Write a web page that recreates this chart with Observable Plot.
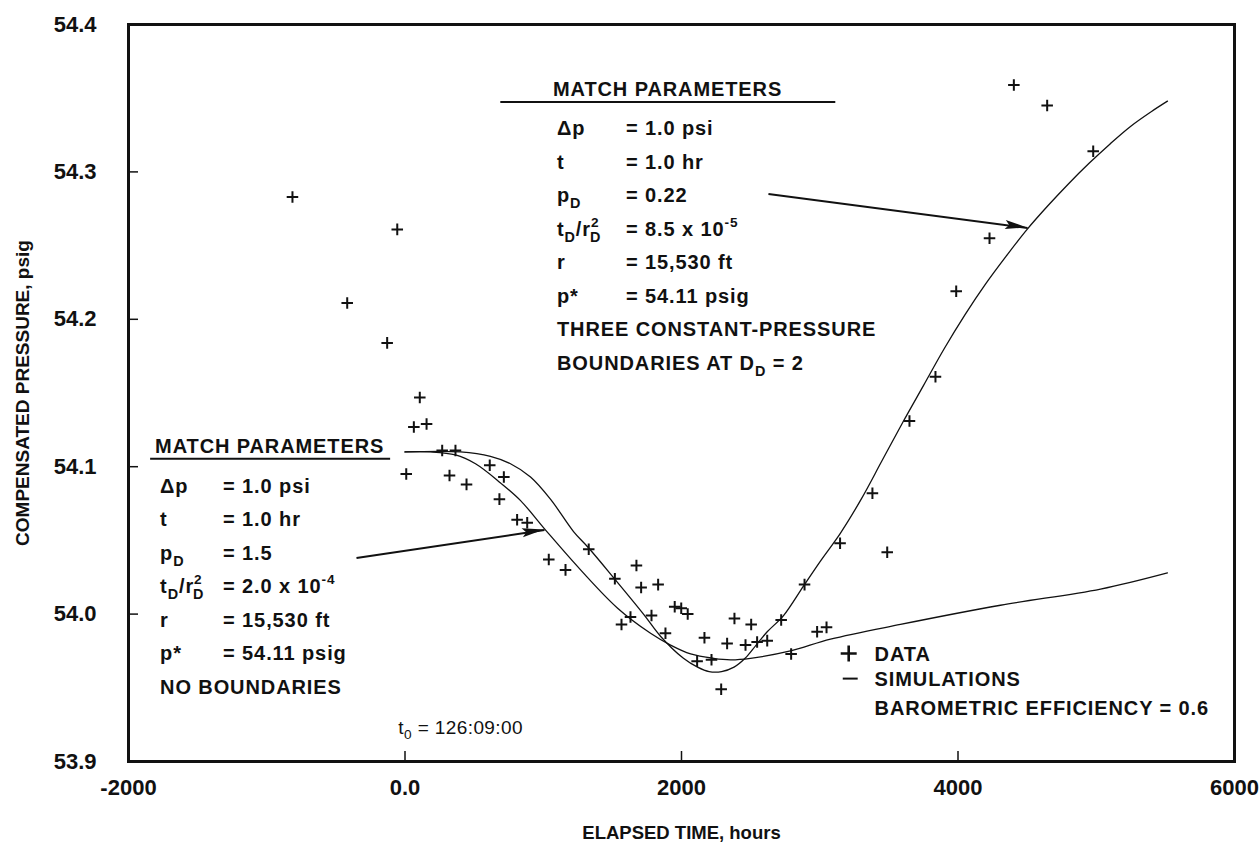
<!DOCTYPE html>
<html><head><meta charset="utf-8">
<script src="https://cdn.jsdelivr.net/npm/d3@7"></script>
<script src="https://cdn.jsdelivr.net/npm/@observablehq/plot@0.6"></script>
<style>
html,body{margin:0;padding:0;background:#fff;}
#chart{width:1260px;height:854px;}
</style></head><body><div id="chart"></div>
<script>
// ---------- DATA ----------
const dataTime = [-814,-418,-129,-56,9,64,107,156,269,322,365,445,613,683,715,811,884,1040,1161,1329,1518,1566,1631,1674,1708,1783,1831,1884,1951,1998,2045,2113,2166,2217,2287,2330,2383,2463,2504,2547,2620,2721,2793,2890,2981,3049,3147,3381,3488,3649,3837,3987,4228,4404,4645,4978];
const dataPressure = [54.283,54.211,54.184,54.261,54.095,54.127,54.147,54.129,54.111,54.094,54.111,54.088,54.101,54.078,54.093,54.064,54.062,54.037,54.030,54.044,54.024,53.993,53.998,54.033,54.018,53.999,54.020,53.987,54.005,54.004,54.000,53.968,53.984,53.969,53.949,53.980,53.997,53.979,53.993,53.981,53.982,53.996,53.973,54.020,53.988,53.991,54.048,54.082,54.042,54.131,54.161,54.219,54.255,54.359,54.345,54.314];

// simulation: no boundaries (pD = 1.5)
const simNoBoundTime = [0,184,365,510,691,836,1017,1270,1538,1776,1921,2066,2232,2355,2499,2788,3078,3584,4307,5031,5515];
const simNoBoundPressure = [54.110,54.110,54.108,54.102,54.089,54.077,54.057,54.030,54.004,53.987,53.979,53.973,53.970,53.969,53.970,53.975,53.983,53.993,54.006,54.017,54.028];

// simulation: three constant-pressure boundaries (pD = 0.22)
const simBoundTime = [0,401,618,763,908,1052,1219,1327,1515,1725,1848,2014,2116,2200,2290,2380,2460,2540,2620,2738,2882,3005,3150,3300,3450,3600,3750,3900,4050,4200,4350,4500,4650,4800,4950,5100,5250,5400,5515];
const simBoundPressure = [54.110,54.110,54.107,54.102,54.093,54.078,54.056,54.045,54.024,54.000,53.985,53.970,53.964,53.961,53.961,53.964,53.970,53.979,53.988,53.999,54.019,54.036,54.055,54.078,54.104,54.130,54.155,54.180,54.203,54.224,54.243,54.261,54.277,54.292,54.306,54.319,54.331,54.341,54.348];

const xTicks = [-2000, 0, 2000, 4000, 6000];
const xTickLabels = ["-2000", "0.0", "2000", "4000", "6000"];
const yTicks = [53.9, 54.0, 54.1, 54.2, 54.3, 54.4];
const yTickLabels = ["53.9", "54.0", "54.1", "54.2", "54.3", "54.4"];
const xTitle = "ELAPSED TIME, hours";
const yTitle = "COMPENSATED PRESSURE, psig";

const paramTitle = "MATCH PARAMETERS";
const paramLabels = ["Δp", "t", "p_{D}", "t_{D}/r^{2}_{D}", "r", "p*"];
const upperValues = ["= 1.0 psi", "= 1.0 hr", "= 0.22", "= 8.5 x 10^{-5}", "= 15,530 ft", "= 54.11 psig"];
const upperNotes = ["THREE CONSTANT-PRESSURE", "BOUNDARIES AT D_{D} = 2"];
const lowerValues = ["= 1.0 psi", "= 1.0 hr", "= 1.5", "= 2.0 x 10^{-4}", "= 15,530 ft", "= 54.11 psig"];
const lowerNotes = ["NO BOUNDARIES"];
const legendLabels = ["DATA", "SIMULATIONS", "BAROMETRIC EFFICIENCY = 0.6"];
const t0Label = "t_{0} = 126:09:00";

// arrows (from annotation to curve)
const arrowFromT = [2629, -351];
const arrowFromP = [54.285, 54.038];
const arrowToT = [4503, 1009];
const arrowToP = [54.262, 54.057];

// ---------- BUILD ----------
const FONT = "'Liberation Sans', Arial, Helvetica, sans-serif";
const W = 1260, H = 854, ML = 128, MR = 26, MT = 24, MB = 93;
const obs = dataTime.map((t, i) => ({t, p: dataPressure[i]}));
const simA = simNoBoundTime.map((t, i) => ({t, p: simNoBoundPressure[i]}));
const simB = simBoundTime.map((t, i) => ({t, p: simBoundPressure[i]}));
const arrows = arrowFromT.map((_, i) => ({x1: arrowFromT[i], y1: arrowFromP[i], x2: arrowToT[i], y2: arrowToP[i]}));
const innerX = xTicks.slice(1, -1);
const innerY = yTicks.slice(1, -1);

const plot = Plot.plot({
  width: W, height: H,
  marginLeft: ML, marginRight: MR, marginTop: MT, marginBottom: MB,
  style: {fontFamily: FONT, background: "#fff", color: "#111", overflow: "visible"},
  x: {domain: [xTicks[0], xTicks[xTicks.length - 1]]},
  y: {domain: [yTicks[0], yTicks[yTicks.length - 1]]},
  marks: [
    Plot.axisX(xTicks, {tickSize: 0, tickPadding: 18, tickFormat: d => xTickLabels[xTicks.indexOf(d)], fontSize: 22, fontWeight: "bold", label: null}),
    Plot.axisY(yTicks, {tickSize: 0, tickPadding: 32, tickFormat: d => yTickLabels[yTicks.indexOf(d)], fontSize: 22, fontWeight: "bold", label: null}),
    Plot.ruleX(innerX, {insetTop: (H - MT - MB) - 10, stroke: "#111", strokeWidth: 1.5}),
    Plot.ruleY(innerY, {insetRight: (W - ML - MR) - 10, stroke: "#111", strokeWidth: 1.5}),
    Plot.line(simA, {x: "t", y: "p", curve: "catmull-rom", stroke: "#111", strokeWidth: 1.3}),
    Plot.line(simB, {x: "t", y: "p", curve: "catmull-rom", stroke: "#111", strokeWidth: 1.3}),
    Plot.dot(obs, {x: "t", y: "p", symbol: "plus", r: 3.8, stroke: "#111", strokeWidth: 2}),
    Plot.link(arrows, {x1: "x1", y1: "y1", x2: "x2", y2: "y2", stroke: "#111", strokeWidth: 2}),
    Plot.text([yTitle], {frameAnchor: "left", textAnchor: "middle", dx: 22 - ML, rotate: -90, fontSize: 19, fontWeight: "bold", fill: "#111"}),
    Plot.text([xTitle], {frameAnchor: "bottom", textAnchor: "middle", dy: 77, fontSize: 18.5, fontWeight: "bold", fill: "#111"}),
    Plot.frame({stroke: "#111", strokeWidth: 3})
  ]
});
document.getElementById("chart").appendChild(plot);

// ---------- ANNOTATIONS ----------
const sx = plot.scale("x"), sy = plot.scale("y");
const X = v => sx.apply(v), Y = v => sy.apply(v);
const svg = d3.select(plot);
const g = svg.append("g").attr("class", "annotations").attr("text-anchor", "start");

function richText(x, yCenter, str, size, weight, spacing) {
  const t = g.append("text").attr("x", x).attr("y", yCenter + 0.36 * size)
    .attr("text-anchor", "start")
    .attr("font-size", size).attr("font-weight", weight || "bold")
    .attr("letter-spacing", spacing == null ? 0.9 : spacing)
    .attr("fill", "#111").style("font-family", FONT);
  const parts = str.split(/(_\{[^}]*\}|\^\{[^}]*\})/).filter(s => s !== "");
  let shift = 0, lastSup = null;
  parts.forEach(p => {
    if (p.startsWith("_{")) {
      const ts = t.append("tspan").attr("font-size", size * 0.72).text(p.slice(2, -1));
      const target = 0.3 * size;
      ts.attr("dy", target - shift);
      if (lastSup) ts.attr("dx", -lastSup.getComputedTextLength() - 1);
      shift = target; lastSup = null;
    } else if (p.startsWith("^{")) {
      const ts = t.append("tspan").attr("font-size", size * 0.68).text(p.slice(2, -1));
      const target = -0.45 * size;
      ts.attr("dy", target - shift);
      shift = target; lastSup = ts.node();
    } else {
      const ts = t.append("tspan").text(p);
      if (shift !== 0) ts.attr("dy", -shift);
      shift = 0; lastSup = null;
    }
  });
  return t;
}

function paramBlock(labelT, firstRowP, valueOffset, values, notes, titleT, titleP, ulT1, ulT2, ulP) {
  const lx = X(labelT), y0 = Y(firstRowP), lh = 33.5, fs = 20;
  richText(X(titleT), Y(titleP), paramTitle, fs);
  g.append("line").attr("x1", X(ulT1)).attr("x2", X(ulT2)).attr("y1", Y(ulP)).attr("y2", Y(ulP))
    .attr("stroke", "#111").attr("stroke-width", 2);
  paramLabels.forEach((s, i) => {
    richText(lx, y0 + i * lh, s, fs);
    richText(lx + valueOffset, y0 + i * lh, values[i], fs);
  });
  notes.forEach((s, i) => richText(lx, y0 + (paramLabels.length + i) * lh, s, fs));
}

// upper block (three constant-pressure boundaries)
paramBlock(1103, 54.3294, 69, upperValues, upperNotes, 1074, 54.3559, 693, 3116, 54.3471);
// lower block (no boundaries)
paramBlock(-1768, 54.0870, 63, lowerValues, lowerNotes, -1804, 54.1140, -1840, -104, 54.1050);

// arrow heads
arrows.forEach(a => {
  const x1 = X(a.x1), y1 = Y(a.y1), x2 = X(a.x2), y2 = Y(a.y2);
  const L = Math.hypot(x2 - x1, y2 - y1), ux = (x2 - x1) / L, uy = (y2 - y1) / L;
  const hl = 22, hw = 4.5;
  const bx = x2 - ux * hl, by = y2 - uy * hl;
  g.append("polygon")
    .attr("points", `${x2},${y2} ${bx - uy * hw},${by + ux * hw} ${bx + ux * 4},${by + uy * 4} ${bx + uy * hw},${by - ux * hw}`)
    .attr("fill", "#111");
});

// t0 label
richText(X(-45), Y(53.9231), t0Label, 19, "normal", 0.4);

// legend
const legX = X(3400);
const legCross = {x: X(3213), y: Y(53.9729)};
g.append("path").attr("d", `M${legCross.x - 8},${legCross.y}h16M${legCross.x},${legCross.y - 8}v16`)
  .attr("stroke", "#111").attr("stroke-width", 2.6).attr("fill", "none");
const legLineY = Y(53.9559);
g.append("line").attr("x1", X(3170)).attr("x2", X(3278)).attr("y1", legLineY).attr("y2", legLineY)
  .attr("stroke", "#111").attr("stroke-width", 2);
richText(legX, Y(53.9729), legendLabels[0], 20);
richText(legX, legLineY, legendLabels[1], 20);
richText(legX, Y(53.9362), legendLabels[2], 20);
</script>
</body></html>
